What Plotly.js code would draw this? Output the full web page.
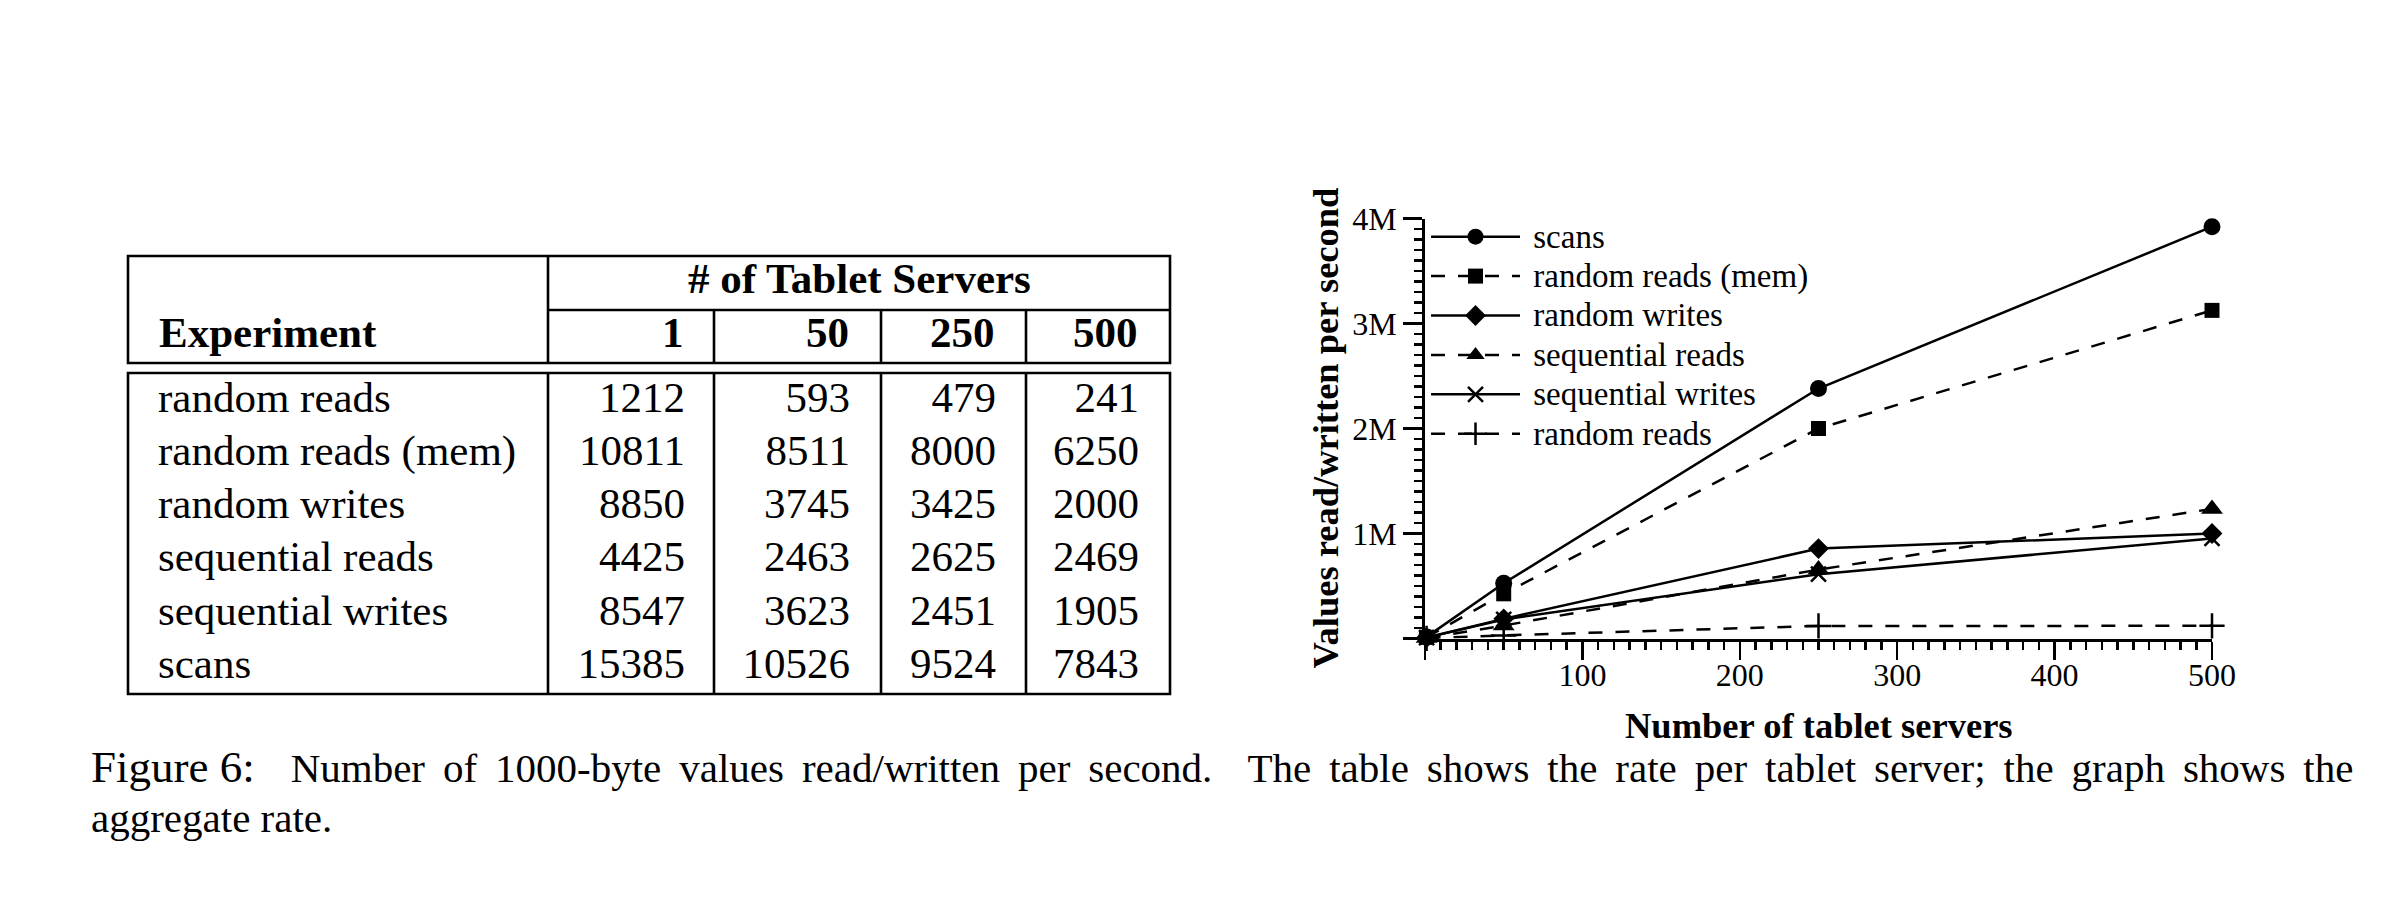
<!DOCTYPE html>
<html><head><meta charset="utf-8">
<script src="https://cdn.plot.ly/plotly-3.0.1.min.js"></script>
<style>html,body{margin:0;padding:0;background:#fff;}#chart{width:2392px;height:906px;}</style>
</head><body><div id="chart"></div>
<script>
// ---------------- data ----------------
const experiments = ["random reads", "random reads (mem)", "random writes", "sequential reads", "sequential writes", "scans"];
const serverCounts = [1, 50, 250, 500];
const serverLabels = ["1", "50", "250", "500"];
// table: rate per tablet server
const rateRandomReads      = [1212, 593, 479, 241];
const rateRandomReadsMem   = [10811, 8511, 8000, 6250];
const rateRandomWrites     = [8850, 3745, 3425, 2000];
const rateSequentialReads  = [4425, 2463, 2625, 2469];
const rateSequentialWrites = [8547, 3623, 2451, 1905];
const rateScans            = [15385, 10526, 9524, 7843];
// graph: aggregate rate
const aggScans             = [15385, 526300, 2381000, 3921500];
const aggRandomReadsMem    = [10811, 425550, 2000000, 3125000];
const aggRandomWrites      = [8850, 187250, 856250, 1000000];
const aggSequentialReads   = [4425, 123150, 656250, 1234500];
const aggSequentialWrites  = [8547, 181150, 612750, 952500];
const aggRandomReads       = [1212, 29650, 119750, 120500];
// tick labels
const xTickVals = [0, 100, 200, 300, 400, 500];
const xTickText = ["", "100", "200", "300", "400", "500"];
const yTickVals = [0, 1e6, 2e6, 3e6, 4e6];
const yTickText = ["", "1M", "2M", "3M", "4M"];
// texts
const tableHeadTitle = "# of Tablet Servers";
const tableHeadExp = "Experiment";
const xTitle = "Number of tablet servers";
const yTitle = "Values read/written per second";
const captionLabel = "Figure 6:";
const captionLine1 = "\u00a0 Number of 1000-byte values read/written per second.\u00a0 The table shows the rate per tablet server; the graph shows the";
const captionLine2 = "aggregate rate.";

// ---------------- layout geometry (pixels) ----------------
const W = 2392, H = 906;
const px = v => v / W;
const py = v => 1 - v / H;
const FONT = "'Liberation Serif', 'Times New Roman', Times, serif";
const BLACK = "#000";

const plotL = 1425, plotR = 2212, plotT = 218.5, plotB = 638.5;
const tabL = 128, tabR = 1170, headTop = 256, headMid = 310, headBot = 363, bodyTop = 373, bodyBot = 694;
const colLines = [548, 714, 881, 1026];
const numRight = [685, 850, 996, 1139];
const labelLeft = 158;
const rowTopCenter = 401, rowPitch = 53.2;
const TABLE_FS = 43;
const CAP_FS = 41;
const TITLE_FS = 36.5;

// ---------------- traces ----------------
const traces = [];
const DASH = "14px,13px";
const seriesDefs = [
  {name: "scans", y: aggScans, symbol: "circle", dash: "solid", size: 17},
  {name: "random reads (mem)", y: aggRandomReadsMem, symbol: "square", dash: DASH, size: 15},
  {name: "random writes", y: aggRandomWrites, symbol: "diamond", dash: "solid", size: 16},
  {name: "sequential reads", y: aggSequentialReads, symbol: "triangle-up", dash: DASH, size: 19},
  {name: "sequential writes", y: aggSequentialWrites, symbol: "x-thin", dash: "solid", size: 15, thin: true},
  {name: "random reads", y: aggRandomReads, symbol: "cross-thin", dash: DASH, size: 18, thin: true}
];
seriesDefs.forEach(s => {
  traces.push({
    type: "scatter", mode: "lines+markers", x: serverCounts, y: s.y,
    name: '<span style="font-size:33px">\u00a0' + s.name + '</span>',
    xaxis: "x", yaxis: "y", cliponaxis: false,
    line: {color: BLACK, width: 2.5, dash: s.dash},
    marker: {symbol: s.symbol, size: s.size, color: BLACK,
             line: {color: BLACK, width: s.thin ? 2.5 : 0}},
    hoverinfo: "x+y"
  });
});

// table body text
const tableRates = [rateRandomReads, rateRandomReadsMem, rateRandomWrites, rateSequentialReads, rateSequentialWrites, rateScans];
traces.push({
  type: "scatter", mode: "text", xaxis: "x2", yaxis: "y2", showlegend: false, cliponaxis: false,
  x: experiments.map(() => labelLeft), y: experiments, text: experiments,
  textposition: "middle right", textfont: {family: FONT, size: TABLE_FS, color: BLACK}, hoverinfo: "skip"
});
serverLabels.forEach((lab, j) => {
  traces.push({
    type: "scatter", mode: "text", xaxis: "x2", yaxis: "y2", showlegend: false, cliponaxis: false,
    x: experiments.map(() => numRight[j]), y: experiments, text: tableRates.map(r => String(r[j])),
    textposition: "middle left", textfont: {family: FONT, size: TABLE_FS, color: BLACK}, hoverinfo: "skip"
  });
});

// ---------------- shapes (table rules) ----------------
const LW = 2.6;
const shapes = [];
function hline(x0, x1, y) { shapes.push({type: "line", xref: "paper", yref: "paper", x0: px(x0), x1: px(x1), y0: py(y), y1: py(y), line: {color: BLACK, width: LW}}); }
function vline(x, y0, y1) { shapes.push({type: "line", xref: "paper", yref: "paper", x0: px(x), x1: px(x), y0: py(y0), y1: py(y1), line: {color: BLACK, width: LW}}); }
function rect(x0, x1, y0, y1) { shapes.push({type: "rect", xref: "paper", yref: "paper", x0: px(x0), x1: px(x1), y0: py(y0), y1: py(y1), line: {color: BLACK, width: LW}, fillcolor: "rgba(0,0,0,0)"}); }
rect(tabL, tabR, headTop, headBot);
rect(tabL, tabR, bodyTop, bodyBot);
hline(colLines[0], tabR, headMid);
vline(colLines[0], headTop, headBot);
colLines.slice(1).forEach(x => vline(x, headMid, headBot));
colLines.forEach(x => vline(x, bodyTop, bodyBot));

// ---------------- annotations ----------------
const ann = [];
function textAnn(t, x, y, xanchor, size, bold, extra) {
  ann.push(Object.assign({
    text: bold ? "<b>" + t + "</b>" : t, xref: "paper", yref: "paper", x: px(x), y: py(y),
    xanchor: xanchor, yanchor: "middle", showarrow: false, borderpad: 0,
    font: {family: FONT, size: size, color: BLACK}
  }, extra || {}));
}
// table header
textAnn(tableHeadExp, labelLeft, 347 - 0.34 * TABLE_FS, "left", TABLE_FS, true);
textAnn(tableHeadTitle, (colLines[0] + tabR) / 2, 293 - 0.34 * TABLE_FS, "center", TABLE_FS, true);
serverLabels.forEach((lab, j) => textAnn(lab, numRight[j], 347 - 0.34 * TABLE_FS, "right", TABLE_FS, true));
// axis titles
textAnn(xTitle, (plotL + plotR) / 2, 738 - 0.34 * TITLE_FS, "center", TITLE_FS, true);
textAnn(yTitle, 1325, (plotT + plotB) / 2, "center", TITLE_FS, true, {textangle: -90});
// caption (justified first line via word spacing)
textAnn('<span style="font-size:45px">' + captionLabel + '</span><span style="word-spacing:7.7px">' + captionLine1 + '</span>',
        90, 781 - 0.34 * CAP_FS, "left", CAP_FS, false);
textAnn(captionLine2, 90, 832 - 0.34 * CAP_FS, "left", CAP_FS, false);

// ---------------- layout ----------------
const axisCommon = {
  showline: true, linewidth: 3, linecolor: BLACK, ticks: "outside", tickwidth: 2.5, tickcolor: BLACK,
  tickfont: {family: FONT, size: 32, color: BLACK}, showgrid: false, zeroline: false, fixedrange: true
};
const layout = {
  width: W, height: H, margin: {l: 0, r: 0, t: 0, b: 0}, paper_bgcolor: "#fff", plot_bgcolor: "rgba(0,0,0,0)",
  font: {family: FONT, color: BLACK},
  showlegend: true,
  xaxis: Object.assign({}, axisCommon, {
    domain: [px(plotL), px(plotR)], range: [0, 500], anchor: "y", ticklen: 18, ticklabelstandoff: -12,
    tickmode: "array", tickvals: xTickVals, ticktext: xTickText,
    minor: {tickmode: "linear", tick0: 0, dtick: 10, ticks: "outside", ticklen: 8, tickwidth: 2.5, tickcolor: BLACK, showgrid: false}
  }),
  yaxis: Object.assign({}, axisCommon, {
    domain: [py(plotB), py(plotT)], range: [0, 4e6], anchor: "x", ticklen: 19,
    tickmode: "array", tickvals: yTickVals, ticktext: yTickText,
    minor: {tickmode: "linear", tick0: 0, dtick: 1e5, ticks: "outside", ticklen: 8, tickwidth: 2.5, tickcolor: BLACK, showgrid: false}
  }),
  xaxis2: {domain: [px(tabL), px(tabR)], range: [tabL, tabR], anchor: "y2", visible: false, fixedrange: true},
  yaxis2: {domain: [py(bodyBot), py(bodyTop)], anchor: "x2", visible: false, fixedrange: true,
           type: "category", categoryorder: "array", categoryarray: experiments,
           range: [-(rowTopCenter - bodyTop) / rowPitch + (bodyBot - bodyTop) / rowPitch, -(rowTopCenter - bodyTop) / rowPitch]},
  legend: {x: px(1426), y: py(212), xanchor: "left", yanchor: "top", bgcolor: "rgba(0,0,0,0)", borderwidth: 0,
           font: {family: FONT, size: 28, color: BLACK}, itemwidth: 89, tracegroupgap: 0, traceorder: "normal"},
  shapes: shapes, annotations: ann
};
Plotly.newPlot("chart", traces, layout, {displayModeBar: false, staticPlot: true});
</script></body></html>
